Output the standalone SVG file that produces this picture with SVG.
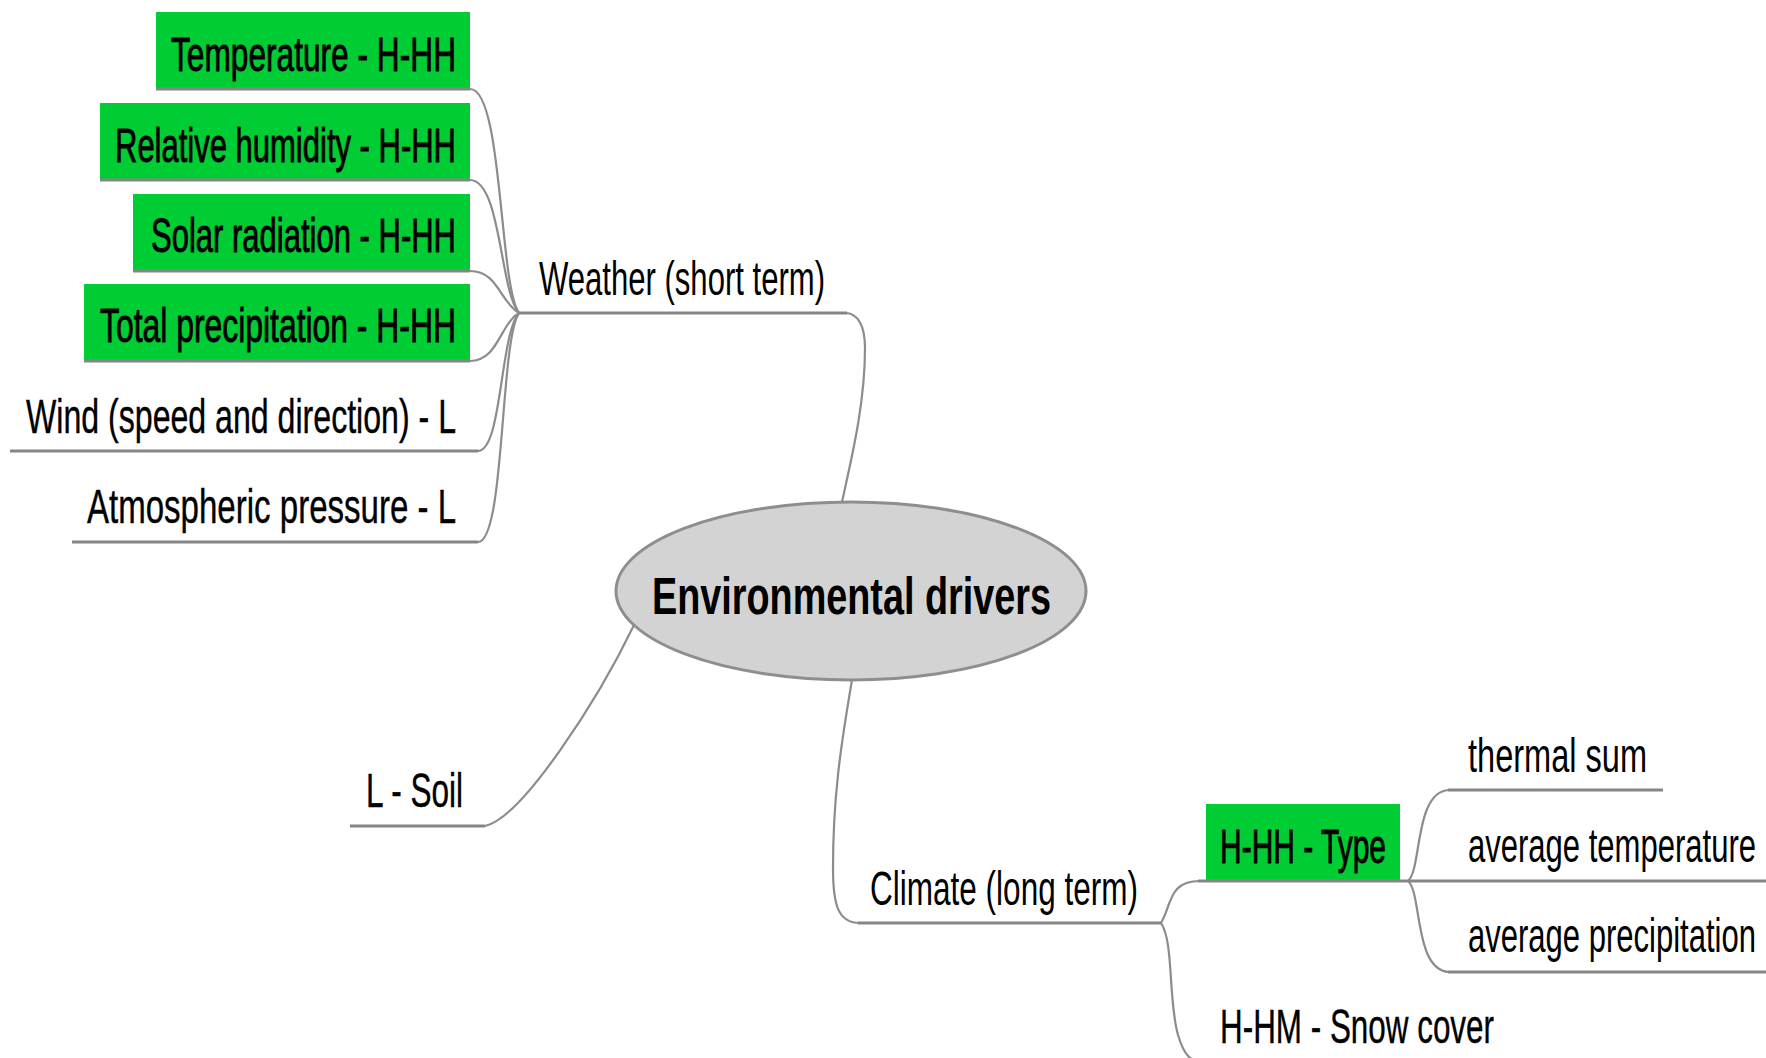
<svg xmlns="http://www.w3.org/2000/svg" width="1766" height="1058" viewBox="0 0 1766 1058">
  <style>
    .box { fill: #00cc33; }
    .ul { stroke: #868686; stroke-width: 3; fill: none; }
    .conn { stroke: #8c8c8c; stroke-width: 2.2; fill: none; stroke-linecap: round; }
    .t { font-family: "Liberation Sans", Arial, sans-serif; font-size: 48px; fill: #000; }
    .t.dark { stroke: #000; stroke-width: 0.9; }
    .t.mid { stroke: #000; stroke-width: 0.4; }
    .hub { font-family: "Liberation Sans", Arial, sans-serif; font-size: 51px; font-weight: bold; fill: #000; }
  </style>

  <rect width="1766" height="1058" fill="#ffffff"/>

  <!-- connectors -->
  <g id="connectors">
    <!-- weather children to the weather junction -->
    <path class="conn" d="M470 89 C 503 89, 499 285, 519 313"/>
    <path class="conn" d="M470 180 C 501 180, 500 292, 519 313"/>
    <path class="conn" d="M470 271 C 498 271, 500 302, 519 313"/>
    <path class="conn" d="M470 361 C 498 361, 500 324, 519 313"/>
    <path class="conn" d="M478 451 C 502 451, 500 334, 519 313"/>
    <path class="conn" d="M478 542 C 505 542, 500 340, 519 313"/>
    <!-- weather branch to hub -->
    <path class="conn" d="M845 313 C 858 313, 865 326, 865 348 C 865 405, 851 460, 842 502"/>
    <!-- soil branch to hub -->
    <path class="conn" d="M485 826 C 522 818, 598 700, 634 625"/>
    <!-- climate branch from hub -->
    <path class="conn" d="M852 680 C 840 750, 833 800, 833 868 C 833 905, 838 923, 860 923"/>
    <!-- climate junction to children -->
    <path class="conn" d="M1161 923 C 1172 905, 1168 881, 1200 881"/>
    <path class="conn" d="M1161 923 C 1174 942, 1168 1000, 1178 1035 C 1184 1055, 1190 1062, 1205 1062"/>
    <!-- type junction to children -->
    <path class="conn" d="M1408 881 C 1422 870, 1414 790, 1450 790"/>
    <path class="conn" d="M1408 881 C 1422 892, 1414 972, 1450 972"/>
  </g>

  <!-- central hub -->
  <g id="node-environmental-drivers">
    <ellipse cx="851" cy="591" rx="235" ry="89" fill="#d3d3d3" stroke="#8e8e8e" stroke-width="3"/>
    <text class="hub" x="652" y="614" textLength="399" lengthAdjust="spacingAndGlyphs">Environmental drivers</text>
  </g>

  <!-- weather branch -->
  <g id="node-weather">
    <line class="ul" x1="519" y1="313" x2="847" y2="313"/>
    <text class="t" x="539" y="295" textLength="286" lengthAdjust="spacingAndGlyphs">Weather (short term)</text>
  </g>

  <g id="node-temperature">
    <rect class="box" x="156" y="12" width="314" height="77"/>
    <line class="ul" x1="156" y1="89" x2="470" y2="89"/>
    <text class="t dark" x="171" y="71" textLength="285" lengthAdjust="spacingAndGlyphs">Temperature - H-HH</text>
  </g>

  <g id="node-relative-humidity">
    <rect class="box" x="100" y="103" width="370" height="77"/>
    <line class="ul" x1="100" y1="180" x2="470" y2="180"/>
    <text class="t dark" x="115" y="162" textLength="341" lengthAdjust="spacingAndGlyphs">Relative humidity - H-HH</text>
  </g>

  <g id="node-solar-radiation">
    <rect class="box" x="133" y="194" width="337" height="77"/>
    <line class="ul" x1="133" y1="271" x2="470" y2="271"/>
    <text class="t dark" x="151" y="252" textLength="305" lengthAdjust="spacingAndGlyphs">Solar radiation - H-HH</text>
  </g>

  <g id="node-total-precipitation">
    <rect class="box" x="84" y="284" width="386" height="77"/>
    <line class="ul" x1="84" y1="361" x2="470" y2="361"/>
    <text class="t dark" x="100" y="342" textLength="356" lengthAdjust="spacingAndGlyphs">Total precipitation - H-HH</text>
  </g>

  <g id="node-wind">
    <line class="ul" x1="10" y1="451" x2="478" y2="451"/>
    <text class="t mid" x="26" y="433" textLength="430" lengthAdjust="spacingAndGlyphs">Wind (speed and direction) - L</text>
  </g>

  <g id="node-atmospheric-pressure">
    <line class="ul" x1="72" y1="542" x2="478" y2="542"/>
    <text class="t mid" x="87" y="523" textLength="369" lengthAdjust="spacingAndGlyphs">Atmospheric pressure - L</text>
  </g>

  <!-- soil branch -->
  <g id="node-soil">
    <line class="ul" x1="350" y1="826" x2="485" y2="826"/>
    <text class="t mid" x="366" y="807" textLength="97" lengthAdjust="spacingAndGlyphs">L - Soil</text>
  </g>

  <!-- climate branch -->
  <g id="node-climate">
    <line class="ul" x1="858" y1="923" x2="1161" y2="923"/>
    <text class="t" x="870" y="905" textLength="268" lengthAdjust="spacingAndGlyphs">Climate (long term)</text>
  </g>

  <g id="node-type">
    <rect class="box" x="1206" y="804" width="194" height="77"/>
    <line class="ul" x1="1198" y1="881" x2="1408" y2="881"/>
    <text class="t dark" x="1220" y="863" textLength="166" lengthAdjust="spacingAndGlyphs">H-HH - Type</text>
  </g>

  <g id="node-snow-cover">
    <line class="ul" x1="1203" y1="1062" x2="1510" y2="1062"/>
    <text class="t mid" x="1220" y="1043" textLength="274" lengthAdjust="spacingAndGlyphs">H-HM - Snow cover</text>
  </g>

  <g id="node-thermal-sum">
    <line class="ul" x1="1448" y1="790" x2="1663" y2="790"/>
    <text class="t" x="1468" y="772" textLength="179" lengthAdjust="spacingAndGlyphs">thermal sum</text>
  </g>

  <g id="node-average-temperature">
    <line class="ul" x1="1408" y1="881" x2="1766" y2="881"/>
    <text class="t" x="1468" y="862" textLength="288" lengthAdjust="spacingAndGlyphs">average temperature</text>
  </g>

  <g id="node-average-precipitation">
    <line class="ul" x1="1448" y1="972" x2="1766" y2="972"/>
    <text class="t" x="1468" y="952" textLength="288" lengthAdjust="spacingAndGlyphs">average precipitation</text>
  </g>
</svg>
